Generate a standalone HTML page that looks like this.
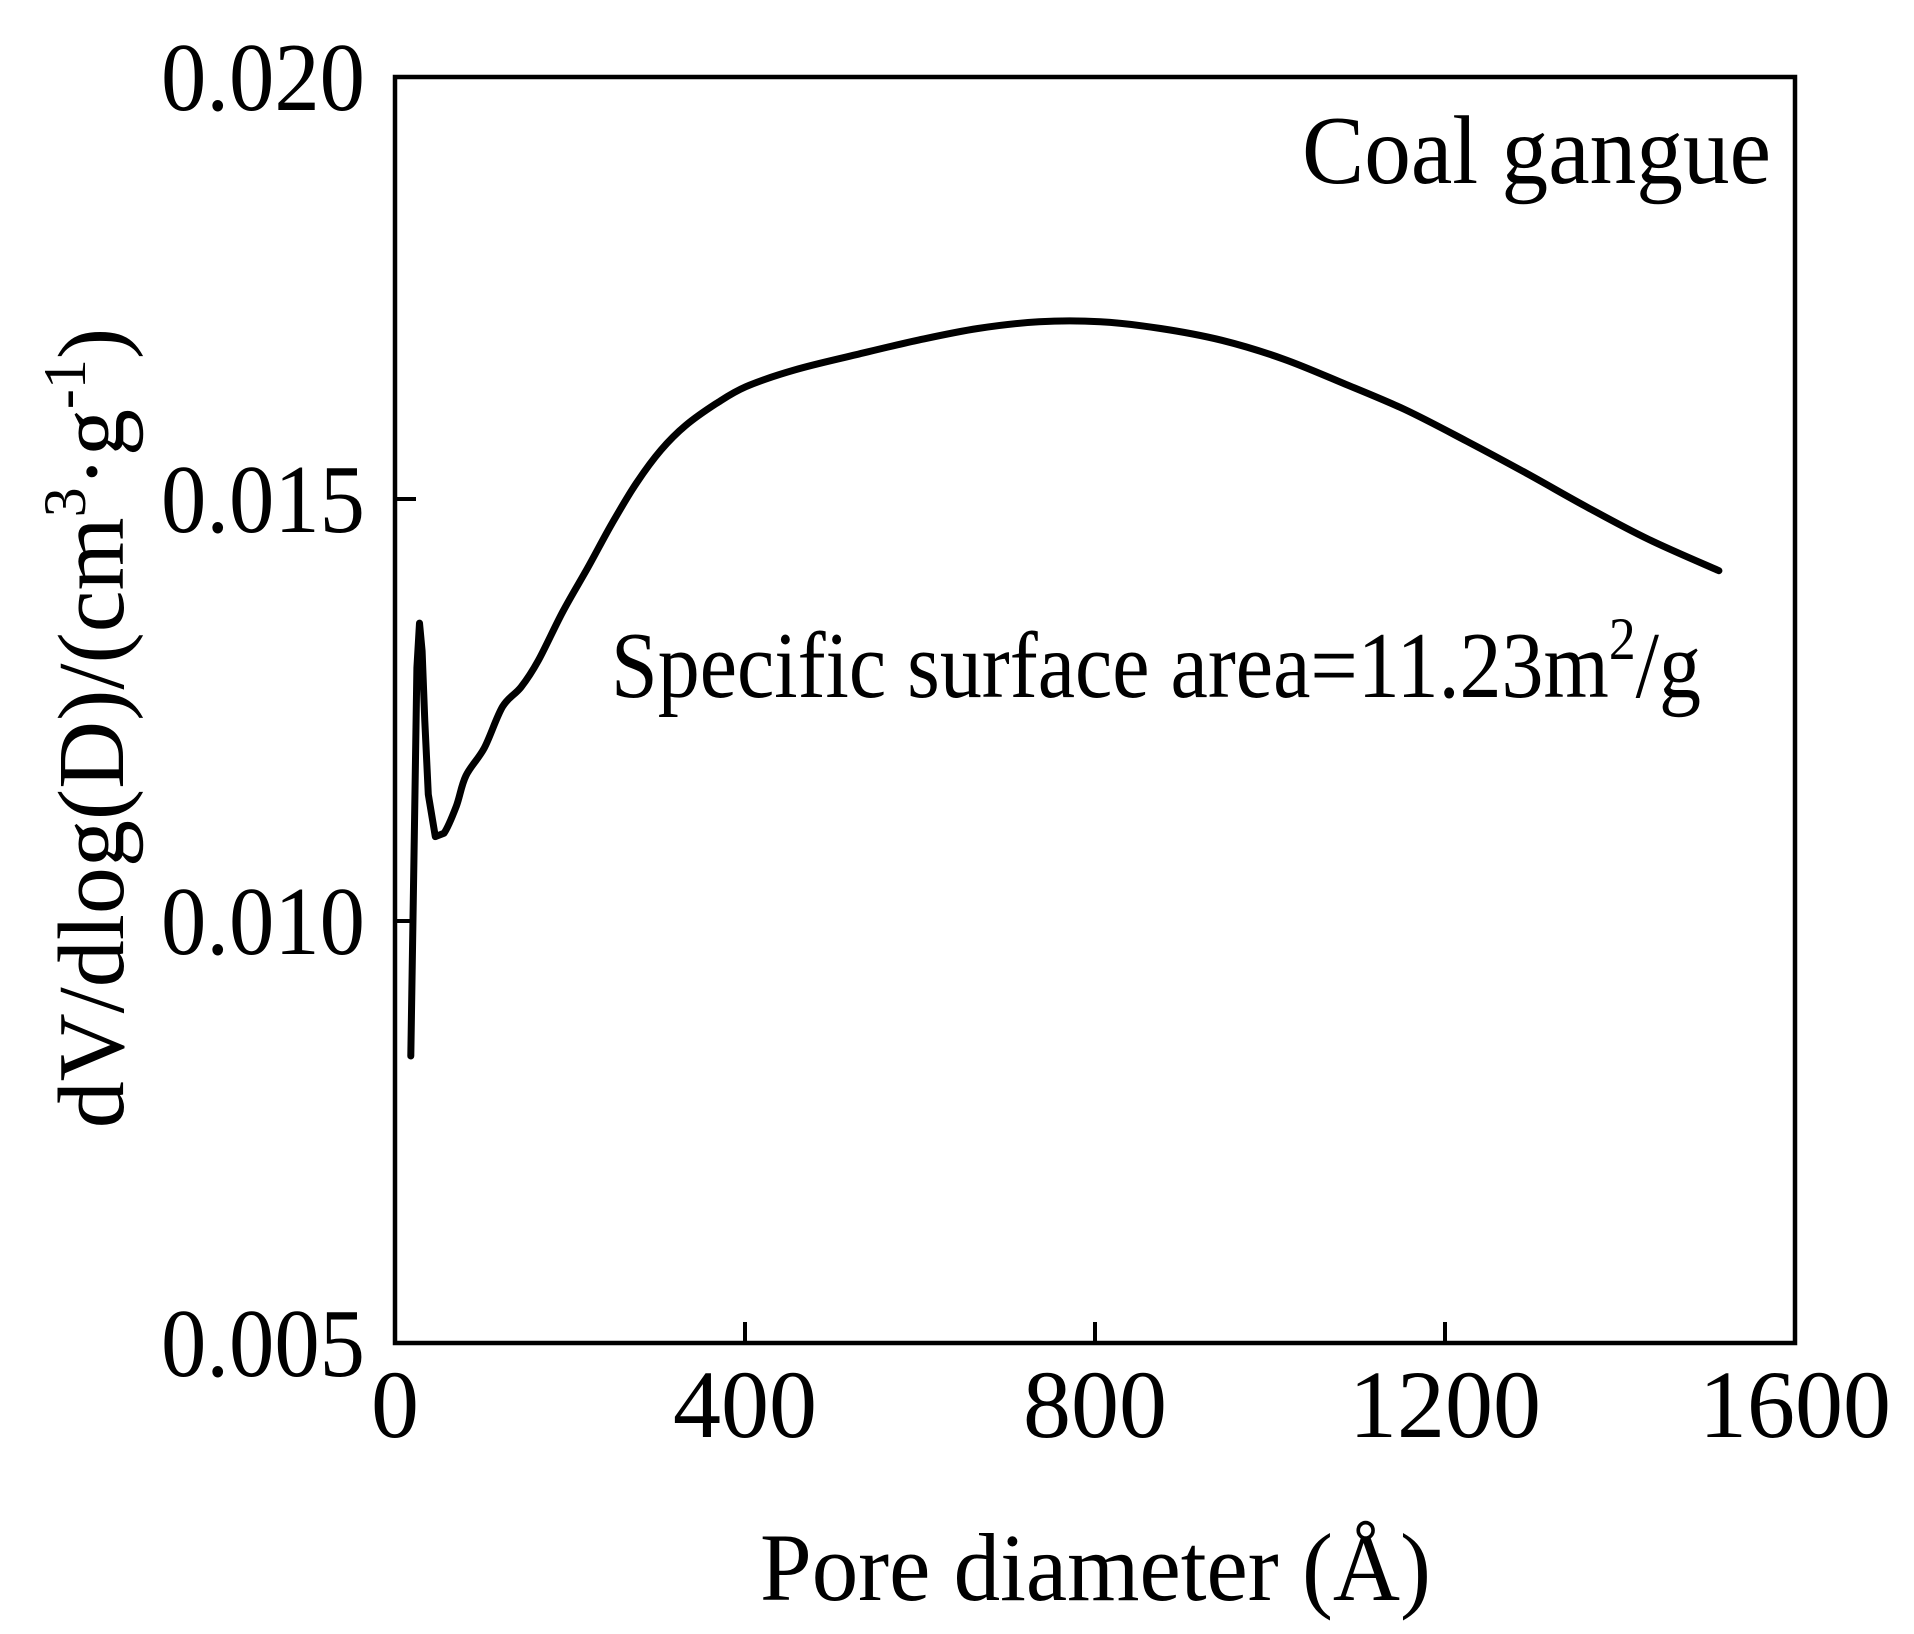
<!DOCTYPE html>
<html><head><meta charset="utf-8"><style>
html,body{margin:0;padding:0;background:#fff}
svg{display:block}
text{font-family:"Liberation Serif",serif;fill:#000}
</style></head><body>
<svg id="chart" width="1914" height="1634" viewBox="0 0 1914 1634" xmlns="http://www.w3.org/2000/svg">
<g id="axes"></g>
<path id="curve" fill="none" stroke="#000" stroke-width="7" stroke-linejoin="round" stroke-linecap="round"/>
<text x="1302" y="183" font-size="97" textLength="469" lengthAdjust="spacingAndGlyphs">Coal gangue</text>
<text x="611" y="697" font-size="94" textLength="1090" lengthAdjust="spacingAndGlyphs">Specific surface area=11.23m<tspan dy="-38" font-size="60">2</tspan><tspan dy="38">/g</tspan></text>
<text x="760" y="1600" font-size="96" textLength="671" lengthAdjust="spacingAndGlyphs">Pore diameter (Å)</text>
<text transform="translate(123,728) rotate(-90)" font-size="94" text-anchor="middle">dV/dlog(D)/(cm<tspan dy="-38" font-size="60">3</tspan><tspan dy="38">·g</tspan><tspan dy="-38" font-size="60">-1</tspan><tspan dy="38">)</tspan></text>
</svg>
<script>
const xTicks = [0, 400, 800, 1200, 1600];
const yTicks = [0.005, 0.010, 0.015, 0.020];
const yTickLabels = ["0.005", "0.010", "0.015", "0.020"];
const poreDiameter = [18, 22, 25, 28, 31, 34, 38, 46, 56, 70, 81, 102, 123, 144, 164, 192, 220, 248, 276, 304, 332, 367, 401, 457, 527, 597, 666, 736, 806, 875, 945, 1015, 1084, 1154, 1224, 1294, 1363, 1433, 1513];
const dVdlogD = [0.00840, 0.01100, 0.01300, 0.01353, 0.01320, 0.01237, 0.01150, 0.01100, 0.01104, 0.01136, 0.01172, 0.01205, 0.01254, 0.01277, 0.01309, 0.01367, 0.01418, 0.01471, 0.01519, 0.01558, 0.01587, 0.01613, 0.01633, 0.01653, 0.01671, 0.01688, 0.01702, 0.01710, 0.01710, 0.01702, 0.01688, 0.01666, 0.01637, 0.01606, 0.01569, 0.01530, 0.01490, 0.01452, 0.01415];

const L = 395, R = 1795, T = 77, B = 1343;
const X0 = 0, X1 = 1600, Y0 = 0.005, Y1 = 0.020;
function xs(v){ return L + (v - X0) / (X1 - X0) * (R - L); }
function ys(v){ return B - (v - Y0) / (Y1 - Y0) * (B - T); }
const NS = "http://www.w3.org/2000/svg";
const axes = document.getElementById('axes');

const frame = document.createElementNS(NS, 'rect');


frame.setAttribute('x', L); frame.setAttribute('y', T);
frame.setAttribute('width', R - L); frame.setAttribute('height', B - T);
frame.setAttribute('fill', 'none'); frame.setAttribute('stroke', '#000'); frame.setAttribute('stroke-width', '4.5');
axes.appendChild(frame);

xTicks.forEach(function(t){
  const x = xs(t);
  const ln = document.createElementNS(NS, 'line');
  
  
  ln.setAttribute('x1', x); ln.setAttribute('x2', x);
  ln.setAttribute('y1', B); ln.setAttribute('y2', B - 21);
  ln.setAttribute('stroke', '#000'); ln.setAttribute('stroke-width', '4');
  axes.appendChild(ln);
  const tx = document.createElementNS(NS, 'text');
  
  
  tx.setAttribute('x', x); tx.setAttribute('y', 1437);
  tx.setAttribute('font-size', '96'); tx.setAttribute('text-anchor', 'middle');
  tx.textContent = String(t);
  axes.appendChild(tx);
});

yTicks.forEach(function(t, i){
  const y = ys(t);
  const ln = document.createElementNS(NS, 'line');
  
  
  ln.setAttribute('x1', L); ln.setAttribute('x2', L + 21);
  ln.setAttribute('y1', y); ln.setAttribute('y2', y);
  ln.setAttribute('stroke', '#000'); ln.setAttribute('stroke-width', '4');
  axes.appendChild(ln);
  const tx = document.createElementNS(NS, 'text');
  
  
  tx.setAttribute('x', 161); tx.setAttribute('y', y + 33);
  tx.setAttribute('font-size', '97');
  tx.setAttribute('textLength', '204'); tx.setAttribute('lengthAdjust', 'spacingAndGlyphs');
  tx.textContent = yTickLabels[i];
  axes.appendChild(tx);
});

const pts = poreDiameter.map(function(v, i){ return [xs(v), ys(dVdlogD[i])]; });
let d = 'M' + pts[0][0].toFixed(1) + ',' + pts[0][1].toFixed(1);
for (let i = 0; i < pts.length - 1; i++) {
  const p0 = pts[Math.max(0, i - 1)], p1 = pts[i], p2 = pts[i + 1], p3 = pts[Math.min(pts.length - 1, i + 2)];
  const k = i < 8 ? 0 : 1 / 6;
  const c1x = p1[0] + (p2[0] - p0[0]) * k, c1y = p1[1] + (p2[1] - p0[1]) * k;
  const c2x = p2[0] - (p3[0] - p1[0]) * k, c2y = p2[1] - (p3[1] - p1[1]) * k;
  d += 'C' + c1x.toFixed(1) + ',' + c1y.toFixed(1) + ' ' + c2x.toFixed(1) + ',' + c2y.toFixed(1) + ' ' + p2[0].toFixed(1) + ',' + p2[1].toFixed(1);
}
document.getElementById('curve').setAttribute('d', d);
</script>
</body></html>
